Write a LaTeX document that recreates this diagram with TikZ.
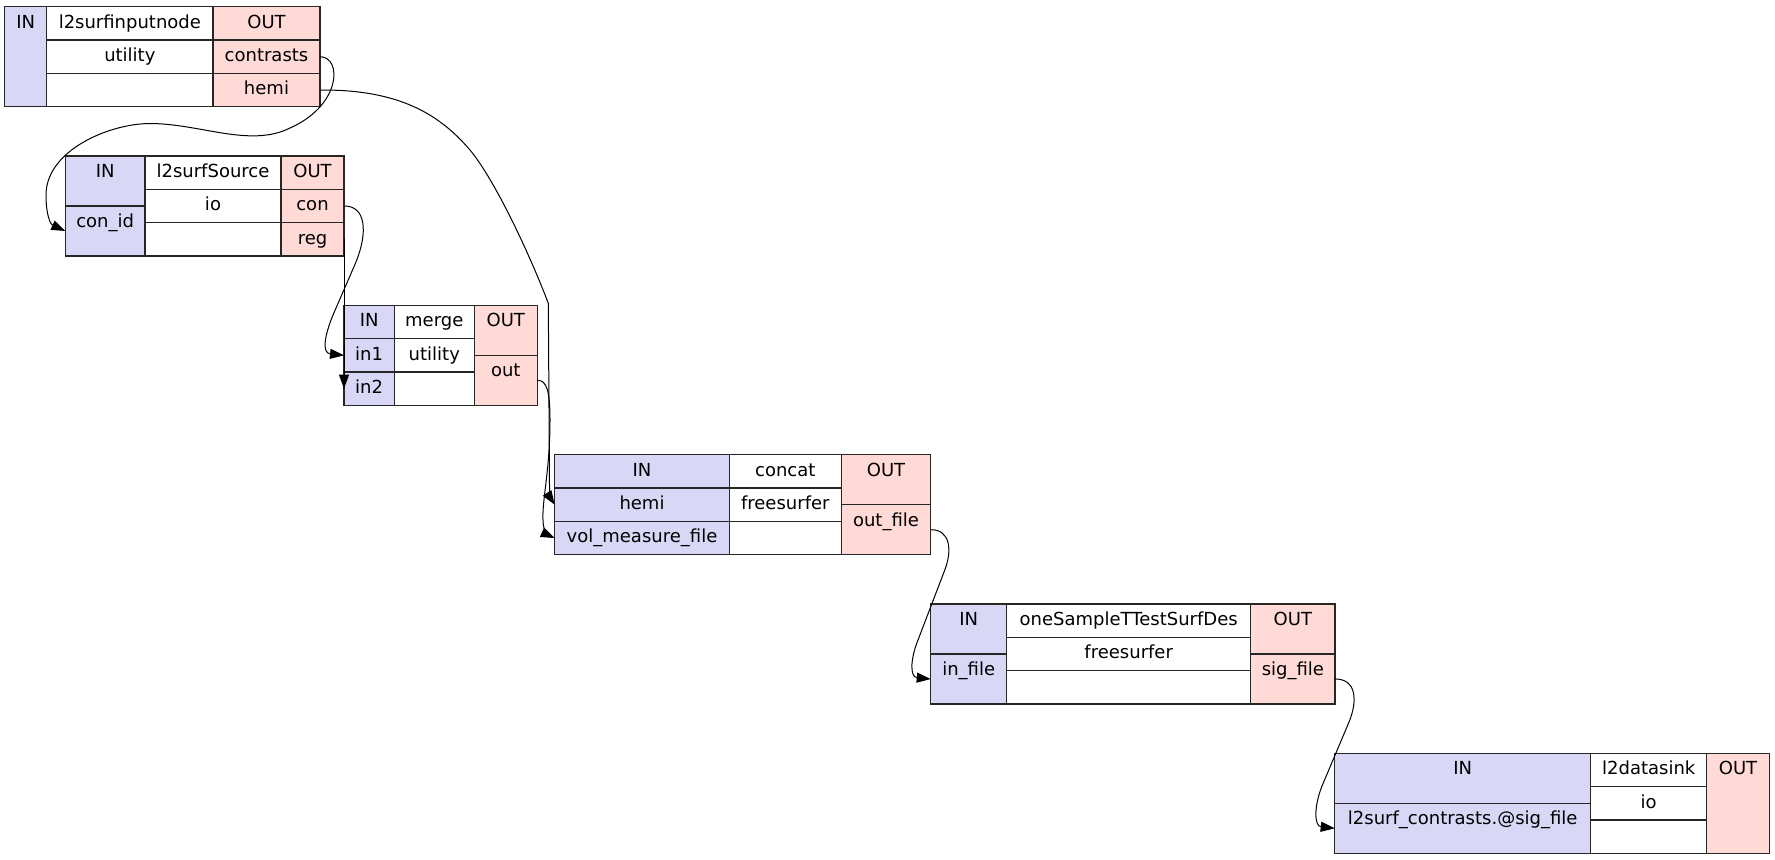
\documentclass[tikz,border=0pt]{standalone}
\usepackage{fontspec}
\setmainfont{DejaVu Sans}
\usepackage{tikz}
\usetikzlibrary{arrows.meta}
\definecolor{infill}{RGB}{216,216,246}
\definecolor{outfill}{RGB}{255,218,214}
\newcommand\recfont{\fontsize{9}{11}\selectfont}

\begin{document}
\begin{tikzpicture}[x=0.5pt,y=-0.5pt]
\tikzset{
    cell/.style={draw=black!85, line width=0.65pt, inner sep=0pt, outer sep=0pt,
        anchor=north west, text height=10.8pt, font=\recfont},
    onerow/.style={cell, minimum width=#1, minimum height=16.667pt, text depth=5.867pt},
    halfcell/.style={cell, minimum width=#1, minimum height=25pt, text depth=14.2pt},
    fullcell/.style={cell, minimum width=#1, minimum height=50pt, text depth=39.2pt},
    inport/.style={fill=infill},
    outport/.style={fill=outfill},
    link/.style={line width=0.5pt, -{Triangle[length=7pt,width=5pt]}},
}
\useasboundingbox (0,0) rectangle (1775,859);

% l2surfinputnode
\node[fullcell=21pt, inport] (inputnode-in) at (4.7,6.7) {IN};
\node[onerow=83.15pt] (inputnode-title) at (inputnode-in.north east) {l2surfinputnode};
\node[onerow=83.15pt] (inputnode-kind) at (inputnode-title.south west) {utility};
\node[onerow=83.15pt] (inputnode-blank) at (inputnode-kind.south west) {};
\node[onerow=53.5pt, outport] (inputnode-out) at (inputnode-title.north east) {OUT};
\node[onerow=53.5pt, outport] (inputnode-contrasts) at (inputnode-out.south west) {contrasts};
\node[onerow=53.5pt, outport] (inputnode-hemi) at (inputnode-contrasts.south west) {hemi};

% l2surfSource
\node[halfcell=39.85pt, inport] (source-in) at (65.3,156) {IN};
\node[halfcell=39.85pt, inport] (source-conid) at (source-in.south west) {con\_id};
\node[onerow=68pt] (source-title) at (source-in.north east) {l2surfSource};
\node[onerow=68pt] (source-kind) at (source-title.south west) {io};
\node[onerow=68pt] (source-blank) at (source-kind.south west) {};
\node[onerow=31.5pt, outport] (source-out) at (source-title.north east) {OUT};
\node[onerow=31.5pt, outport] (source-con) at (source-out.south west) {con};
\node[onerow=31.5pt, outport] (source-reg) at (source-con.south west) {reg};

% merge
\node[onerow=25.15pt, inport] (merge-in) at (344,305.3) {IN};
\node[onerow=25.15pt, inport] (merge-inone) at (merge-in.south west) {in1};
\node[onerow=25.15pt, inport] (merge-intwo) at (merge-inone.south west) {in2};
\node[onerow=40pt] (merge-title) at (merge-in.north east) {merge};
\node[onerow=40pt] (merge-kind) at (merge-title.south west) {utility};
\node[onerow=40pt] (merge-blank) at (merge-kind.south west) {};
\node[halfcell=31.5pt, outport] (merge-out) at (merge-title.north east) {OUT};
\node[halfcell=31.5pt, outport] (merge-result) at (merge-out.south west) {out};

% concat
\node[onerow=87.3pt, inport] (concat-in) at (554.7,454.7) {IN};
\node[onerow=87.3pt, inport] (concat-hemi) at (concat-in.south west) {hemi};
\node[onerow=87.3pt, inport] (concat-vol) at (concat-hemi.south west) {vol\_measure\_file};
\node[onerow=56pt] (concat-title) at (concat-in.north east) {concat};
\node[onerow=56pt] (concat-kind) at (concat-title.south west) {freesurfer};
\node[onerow=56pt] (concat-blank) at (concat-kind.south west) {};
\node[halfcell=44.7pt, outport] (concat-out) at (concat-title.north east) {OUT};
\node[halfcell=44.7pt, outport] (concat-result) at (concat-out.south west) {out\_file};

% oneSampleTTestSurfDes
\node[halfcell=38pt, inport] (ttest-in) at (930.7,604) {IN};
\node[halfcell=38pt, inport] (ttest-infile) at (ttest-in.south west) {in\_file};
\node[onerow=122pt] (ttest-title) at (ttest-in.north east) {oneSampleTTestSurfDes};
\node[onerow=122pt] (ttest-kind) at (ttest-title.south west) {freesurfer};
\node[onerow=122pt] (ttest-blank) at (ttest-kind.south west) {};
\node[halfcell=42.15pt, outport] (ttest-out) at (ttest-title.north east) {OUT};
\node[halfcell=42.15pt, outport] (ttest-sigfile) at (ttest-out.south west) {sig\_file};

% l2datasink
\node[halfcell=128pt, inport] (sink-in) at (1334.7,753.3) {IN};
\node[halfcell=128pt, inport] (sink-port) at (sink-in.south west) {l2surf\_contrasts.@sig\_file};
\node[onerow=58pt] (sink-title) at (sink-in.north east) {l2datasink};
\node[onerow=58pt] (sink-kind) at (sink-title.south west) {io};
\node[onerow=58pt] (sink-blank) at (sink-kind.south west) {};
\node[fullcell=31.3pt, outport] (sink-out) at (sink-title.north east) {OUT};

% Connections between the ports
\draw[link] (inputnode-contrasts.east) .. controls (342,56.7) and (342,105) .. (290,128)
    .. controls (250,148) and (200,123.5) .. (150,123.5)
    .. controls (110,123.5) and (46,150) .. (46,195)
    .. controls (46,214) and (50,224) .. (source-conid.west);
\draw[link] (inputnode-hemi.east) .. controls (400,89.3) and (440,115) .. (470,150)
    .. controls (495,180) and (530,255) .. (548.3,303.3)
    -- (549.5,485) .. controls (549.5,494) and (551,499) .. (concat-hemi.west);
\draw[link] (source-con.east) .. controls (366,205.7) and (368,232) .. (356,262)
    -- (333,315) .. controls (324,337) and (322,353) .. (merge-inone.west);
\draw[link] (source-reg.east) -- (merge-intwo.west);
\draw[link] (merge-result.east) .. controls (547,380) and (550,392) .. (550,420)
    .. controls (550,470) and (542,500) .. (543,520)
    .. controls (543,530) and (548,535) .. (concat-vol.west);
\draw[link] (concat-result.east) .. controls (950,529.3) and (953,550) .. (944,572)
    -- (918,640) .. controls (910,660) and (910,677) .. (ttest-infile.west);
\draw[link] (ttest-sigfile.east) .. controls (1356,678.7) and (1358,700) .. (1349,722)
    -- (1322,786) .. controls (1314,806) and (1314,826) .. (sink-port.west);

\end{tikzpicture}
\end{document}
